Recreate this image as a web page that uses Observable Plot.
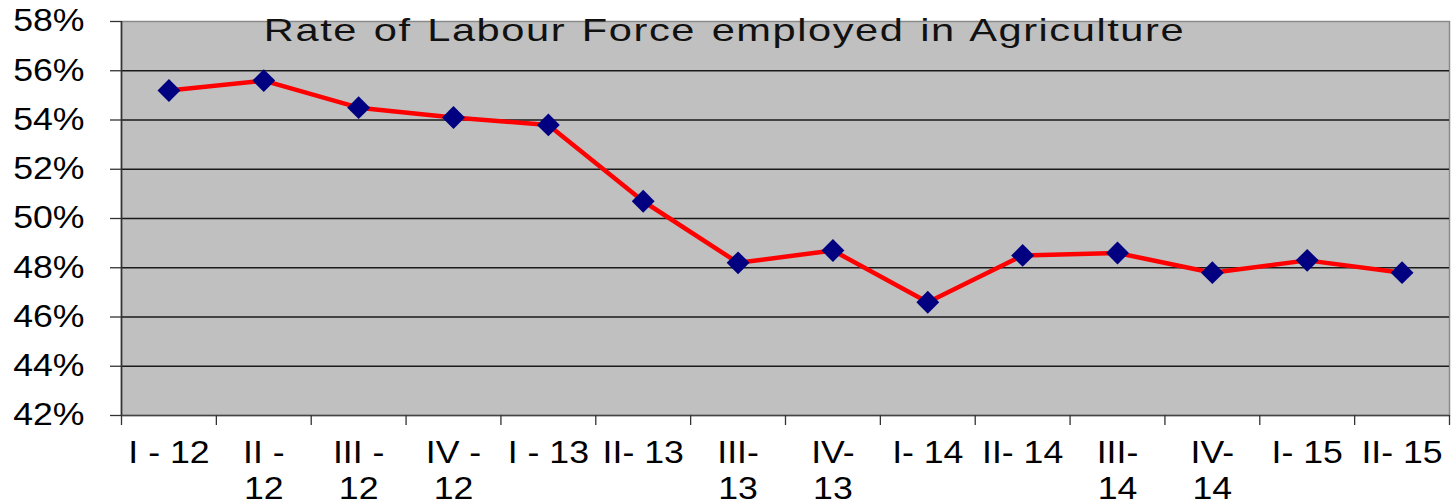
<!DOCTYPE html>
<html><head><meta charset="utf-8">
<script src="https://cdn.jsdelivr.net/npm/d3@7"></script>
<script src="https://cdn.jsdelivr.net/npm/@observablehq/plot@0.6"></script>
<style>
html,body{margin:0;padding:0;background:#fff;}
#chart svg{display:block;}
</style>
</head><body><div id="chart"></div>
<script>
const title = "Rate of Labour Force employed in Agriculture";
const quarters = ["I - 12","II - 12","III - 12","IV - 12","I - 13","II- 13","III- 13","IV- 13","I- 14","II- 14","III- 14","IV- 14","I- 15","II- 15"];
const tickLabels = ["I - 12","II -\n12","III -\n12","IV -\n12","I - 13","II- 13","III-\n13","IV-\n13","I- 14","II- 14","III-\n14","IV-\n14","I- 15","II- 15"];
const rates = [55.2,55.6,54.5,54.1,53.8,50.7,48.2,48.7,46.6,48.5,48.6,47.8,48.3,47.8];
const yTicks = [42,44,46,48,50,52,54,56,58];

const data = quarters.map((q,i)=>({q, pos: i+0.5, rate: rates[i]}));

const plot = Plot.plot({
  width:1451, height:503,
  marginLeft:121, marginRight:2, marginTop:21, marginBottom:88,
  style:{fontFamily:"'Liberation Sans', Arial, sans-serif", fontSize:"31px", color:"#000", background:"#fff", overflow:"visible"},
  x:{type:"linear", domain:[0, quarters.length], axis:null},
  y:{domain:[42,58], axis:null},
  marks:[
    Plot.frame({fill:"#C0C0C0", stroke:"#8a8a8a", strokeWidth:1.5}),
    Plot.ruleY(yTicks.slice(1,-1), {stroke:"#1a1a1a", strokeWidth:1.4}),
    Plot.ruleY([42], {stroke:"#444", strokeWidth:1.6}),
    Plot.ruleX([0], {stroke:"#333", strokeWidth:1.6}),
    Plot.axisY(yTicks, {label:null, tickSize:11, tickPadding:26, tickFormat:d=>d+"%", fontSize:31, stroke:"#333", strokeWidth:1.3}),
    Plot.axisX(d3.range(quarters.length+1), {label:null, tickSize:10, tickFormat:()=>"", stroke:"#333", strokeWidth:1.3}),
    Plot.axisX(data.map(d=>d.pos), {label:null, tickSize:0, tickPadding:22, tickFormat:d=>tickLabels[Math.floor(d)], fontSize:31, lineHeight:1.16}),
    Plot.line(data, {x:"pos", y:"rate", stroke:"#FF0000", strokeWidth:4.5}),
    Plot.dot(data, {x:"pos", y:"rate", symbol:"diamond2", r:10.3, fill:"#000080", stroke:"none"}),
    Plot.text([title], {frameAnchor:"top", lineAnchor:"top", dy:-3, dx:-61, fontSize:32, fill:"#111"})
  ]
});
document.getElementById("chart").appendChild(plot);

// horizontal stretch of glyphs as in the reference rendering
plot.querySelectorAll("text").forEach(t => {
  const isTitle = t.textContent === title;
  const k = isTitle ? 1.3 : 1.15;
  if (isTitle) { t.style.letterSpacing = "1.2px"; t.style.wordSpacing = "2px"; }
  const x = +t.getAttribute("x") || 0, y = +t.getAttribute("y") || 0;
  const tr = t.getAttribute("transform") || "";
  t.setAttribute("transform", `${tr} translate(${x},${y}) scale(${k},1) translate(${-x},${-y})`);
});
</script>
</body></html>
